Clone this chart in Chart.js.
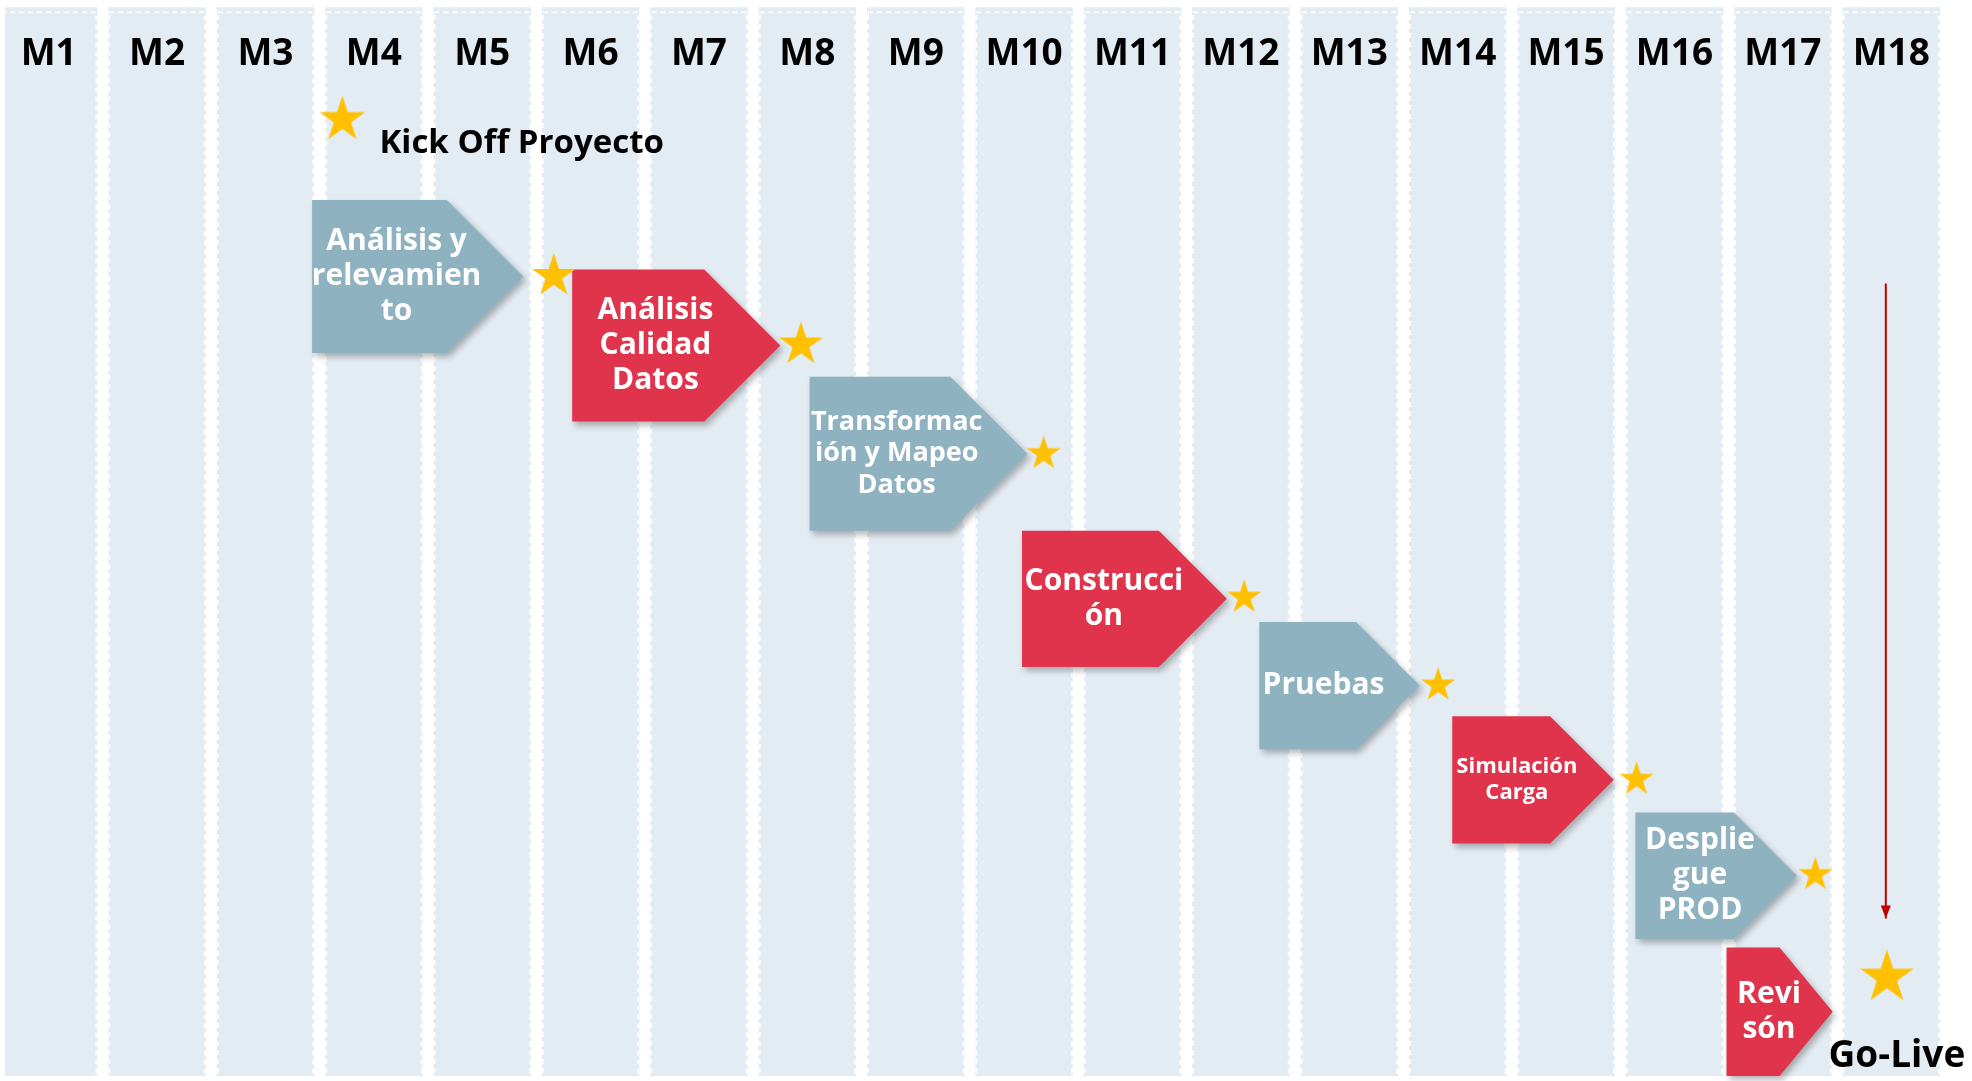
<!DOCTYPE html>
<html>
<head>
<meta charset="utf-8">
<script src="https://cdn.jsdelivr.net/npm/chart.js@4.4.1/dist/chart.umd.min.js"></script>
<style>
  html, body { margin: 0; padding: 0; background: #fff; }
  canvas { display: block; }
</style>
</head>
<body>
<canvas id="roadmap" width="1972" height="1081"></canvas>
<script>
// months on the x axis (column n sits at value n)
let months = ['M1', 'M2', 'M3', 'M4', 'M5', 'M6', 'M7', 'M8', 'M9',
              'M10', 'M11', 'M12', 'M13', 'M14', 'M15', 'M16', 'M17', 'M18'];
let monthNumbers = months.map((m, i) => i + 1);

// phases: label lines, start / end month, top / bottom row (0 = top of slide, 100 = bottom)
let tasks = [
  ['Análisis y', 'relevamien', 'to'],
  ['Análisis', 'Calidad', 'Datos'],
  ['Transformac', 'ión y Mapeo', 'Datos'],
  ['Construcci', 'ón'],
  ['Pruebas'],
  ['Simulación', 'Carga'],
  ['Desplie', 'gue', 'PROD'],
  ['Revi', 'són']
];
let taskStart = [3.43, 5.83, 8.02, 9.98, 12.17, 13.95, 15.64, 16.48];
let taskEnd = [5.38, 7.75, 10.03, 11.87, 13.65, 15.44, 17.13, 17.46];
let taskTop = [18.2, 24.7, 34.7, 49.1, 57.6, 66.4, 75.4, 88.0];
let taskBottom = [32.5, 38.9, 49.1, 61.8, 69.5, 78.3, 87.2, 100];

// milestones (stars)
let milestones = ['Kick Off Proyecto', '', '', '', '', '', '', '', 'Go-Live'];
let milestoneMonth = [3.71, 5.66, 7.94, 10.18, 12.03, 13.82, 15.65, 17.30, 17.96];
let milestoneRow = [10.7, 25.3, 31.7, 41.9, 55.3, 63.5, 72.3, 81.2, 90.8];

// red arrow down to go-live
let arrowMonth = 17.95;
let arrowRows = [26.0, 85.3];

const FONT = "'Open Sans', 'DejaVu Sans', sans-serif";
const GREY = '#8FB2C1';
const RED = '#E0334C';
const STAR = '#FFC000';

function starImage(r) {
  let c = document.createElement('canvas');
  c.width = c.height = Math.ceil(r * 2 + 2);
  let g = c.getContext('2d');
  g.translate(c.width / 2, c.height / 2);
  g.beginPath();
  for (let k = 0; k < 10; k++) {
    let rad = k % 2 ? r * 0.382 : r;
    let a = -Math.PI / 2 + k * Math.PI / 5;
    g.lineTo(rad * Math.cos(a), rad * Math.sin(a));
  }
  g.closePath();
  g.fillStyle = STAR;
  g.fill();
  return c;
}
let starSizes = [24, 23, 23, 18, 18, 18, 18, 18, 28];

const roadmapPlugin = {
  id: 'roadmap',
  afterDatasetDraw(chart, args) {
    const { ctx, scales: { x, y } } = chart;
    if (args.index === 0) {
      // dashed edge on the month columns
      ctx.save();
      ctx.strokeStyle = 'rgba(255,255,255,0.9)';
      ctx.lineWidth = 2;
      ctx.setLineDash([5, 4]);
      args.meta.data.forEach(bar => {
        ctx.strokeRect(bar.x - bar.width / 2 + 1, bar.y + 1, bar.width - 2, bar.base - bar.y + 4);
      });
      ctx.restore();

      // month headers
      ctx.save();
      ctx.fillStyle = '#000';
      ctx.font = `700 37px ${FONT}`;
      ctx.textAlign = 'center';
      ctx.textBaseline = 'middle';
      months.forEach((m, i) => {
        ctx.fillText(m, x.getPixelForValue(monthNumbers[i]), y.getPixelForValue(4.6));
      });
      ctx.restore();

      // chevrons
      const sizes = [30, 30, 27, 30, 30, 22, 30, 30];
      tasks.forEach((lines, i) => {
        const left = x.getPixelForValue(taskStart[i]);
        const tip = x.getPixelForValue(taskEnd[i]);
        const top = y.getPixelForValue(taskTop[i]);
        const bottom = y.getPixelForValue(taskBottom[i]);
        const mid = (top + bottom) / 2;
        const depth = Math.min(tip - left, bottom - top) / 2;
        ctx.save();
        ctx.shadowColor = 'rgba(0,0,0,0.28)';
        ctx.shadowBlur = 6;
        ctx.shadowOffsetX = 3;
        ctx.shadowOffsetY = 4;
        ctx.fillStyle = i % 2 ? RED : GREY;
        ctx.beginPath();
        ctx.moveTo(left, top);
        ctx.lineTo(tip - depth, top);
        ctx.lineTo(tip, mid);
        ctx.lineTo(tip - depth, bottom);
        ctx.lineTo(left, bottom);
        ctx.closePath();
        ctx.fill();
        ctx.restore();

        ctx.save();
        ctx.fillStyle = '#fff';
        ctx.font = `700 ${sizes[i]}px ${FONT}`;
        ctx.textAlign = 'center';
        ctx.textBaseline = 'middle';
        const lh = sizes[i] * 1.17;
        const cx = left + (tip - left) * 0.4;
        lines.forEach((t, j) => {
          ctx.fillText(t, cx, mid + (j - (lines.length - 1) / 2) * lh);
        });
        ctx.restore();
      });
    }
    if (args.index === 1) {
      // arrow head
      const pts = args.meta.data;
      const p = pts[pts.length - 1];
      ctx.save();
      ctx.fillStyle = '#C00000';
      ctx.beginPath();
      ctx.moveTo(p.x, p.y);
      ctx.lineTo(p.x - 5, p.y - 13);
      ctx.lineTo(p.x + 5, p.y - 13);
      ctx.closePath();
      ctx.fill();
      ctx.restore();
    }
  },
  afterDatasetsDraw(chart) {
    const { ctx, scales: { x, y } } = chart;
    ctx.save();
    ctx.fillStyle = '#000';
    ctx.textBaseline = 'middle';
    milestones.forEach((label, i) => {
      if (!label) return;
      const px = x.getPixelForValue(milestoneMonth[i]);
      const py = y.getPixelForValue(milestoneRow[i]);
      if (i === 0) {
        ctx.font = `700 33px ${FONT}`;
        ctx.textAlign = 'left';
        ctx.fillText(label, px + 37, py + 24);
      } else {
        ctx.font = `700 37px ${FONT}`;
        ctx.textAlign = 'center';
        ctx.fillText(label, px + 10, py + 79);
      }
    });
    ctx.restore();
  }
};

let myChart = document.getElementById('roadmap').getContext('2d');
let chart = new Chart(myChart, {
  type: 'bar',
  data: {
    datasets: [
      {
        type: 'bar',
        data: monthNumbers.map(n => ({ x: n, y: [0.2, 100] })),
        backgroundColor: '#E3ECF2',
        borderWidth: 0,
        barPercentage: 0.9,
        categoryPercentage: 1,
        order: 3
      },
      {
        type: 'line',
        data: arrowRows.map(r => ({ x: arrowMonth, y: r })),
        borderColor: '#C00000',
        borderWidth: 2,
        pointRadius: 0,
        fill: false,
        order: 2
      },
      {
        type: 'scatter',
        data: milestoneMonth.map((m, i) => ({ x: m, y: milestoneRow[i] })),
        pointStyle: starSizes.map(starImage),
        order: 1
      }
    ]
  },
  options: {
    responsive: false,
    animation: false,
    events: [],
    layout: { padding: 0 },
    scales: {
      x: {
        type: 'linear', min: 0.597, max: 18.699, offset: false, display: false,
        ticks: { stepSize: 1, includeBounds: false }
      },
      y: { type: 'linear', min: 0, max: 100, reverse: true, display: false }
    },
    plugins: {
      legend: { display: false },
      tooltip: { enabled: false }
    }
  },
  plugins: [roadmapPlugin]
});
</script>
</body>
</html>
